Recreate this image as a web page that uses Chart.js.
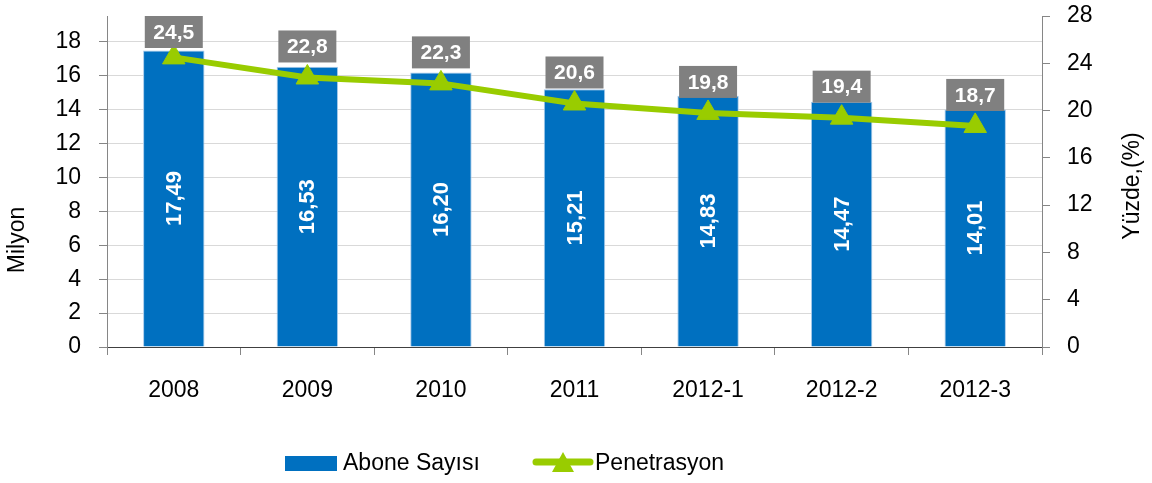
<!DOCTYPE html>
<html lang="tr">
<head>
    <meta charset="UTF-8">
    <title>Abone Sayısı ve Penetrasyon</title>
    <script src="https://cdn.jsdelivr.net/npm/chart.js"></script>
    <style>
        html, body { margin: 0; padding: 0; background: #fff; }
        #wrap { width: 1152px; height: 483px; }
    </style>
</head>
<body>
    <div id="wrap"><canvas id="myChart" width="1152" height="483"></canvas></div>
    <script>
        // data
        const categories = ['2008', '2009', '2010', '2011', '2012-1', '2012-2', '2012-3'];
        const aboneSayisi = [17.49, 16.53, 16.20, 15.21, 14.83, 14.47, 14.01];
        const penetrasyon = [24.5, 22.8, 22.3, 20.6, 19.8, 19.4, 18.7];
        const leftTicks = [0, 2, 4, 6, 8, 10, 12, 14, 16, 18];
        const rightTicks = [0, 4, 8, 12, 16, 20, 24, 28];

        const BLUE = '#0070C0';
        const GREEN = '#99CC00';
        const AXIS = '#868686';
        const FONT = "'Liberation Sans', Arial, sans-serif";

        function fmt(v, d) {
            return v.toFixed(d).replace('.', ',');
        }

        const labelPlugin = {
            id: 'valueLabels',
            afterDatasetsDraw(chart) {
                const ctx = chart.ctx;
                const area = chart.chartArea;
                ctx.save();
                // bar values, rotated, middle of bar
                chart.getDatasetMeta(0).data.forEach((bar, i) => {
                    ctx.save();
                    ctx.translate(bar.x, (bar.y + bar.base) / 2);
                    ctx.rotate(-Math.PI / 2);
                    ctx.fillStyle = '#fff';
                    ctx.font = 'bold 22px ' + FONT;
                    ctx.textAlign = 'center';
                    ctx.textBaseline = 'middle';
                    ctx.fillText(fmt(aboneSayisi[i], 2), 0, 1);
                    ctx.restore();
                });
                // line values in grey boxes
                chart.getDatasetMeta(1).data.forEach((pt, i) => {
                    const w = 58, h = 32;
                    let top = pt.y - 15 - h;
                    if (top < area.top) top = area.top;
                    ctx.fillStyle = '#808080';
                    ctx.fillRect(pt.x - w / 2, top, w, h);
                    ctx.fillStyle = '#fff';
                    ctx.font = 'bold 21px ' + FONT;
                    ctx.textAlign = 'center';
                    ctx.textBaseline = 'middle';
                    ctx.fillText(fmt(penetrasyon[i], 1), pt.x, top + h / 2 + 1);
                });
                ctx.restore();
            },
            afterDraw(chart) {
                const ctx = chart.ctx;
                ctx.save();
                ctx.fillStyle = '#000';
                ctx.font = '23px ' + FONT;
                ctx.textAlign = 'center';
                ctx.textBaseline = 'middle';
                // axis titles, both read upward
                ctx.save();
                ctx.translate(18, 240);
                ctx.rotate(-Math.PI / 2);
                ctx.fillText('Milyon', 0, 0);
                ctx.restore();
                ctx.save();
                ctx.translate(1133, 186);
                ctx.rotate(-Math.PI / 2);
                ctx.fillText('Yüzde,(%)', 0, 0);
                ctx.restore();

                // legend
                ctx.textAlign = 'left';
                ctx.fillStyle = BLUE;
                ctx.fillRect(285, 456, 52, 15);
                ctx.fillStyle = '#000';
                ctx.fillText('Abone Sayısı', 343, 464);

                ctx.strokeStyle = GREEN;
                ctx.lineWidth = 7;
                ctx.lineCap = 'round';
                ctx.beginPath();
                ctx.moveTo(536, 462);
                ctx.lineTo(590, 462);
                ctx.stroke();
                ctx.fillStyle = GREEN;
                ctx.beginPath();
                ctx.moveTo(563, 452);
                ctx.lineTo(574, 472);
                ctx.lineTo(552, 472);
                ctx.closePath();
                ctx.fill();
                ctx.fillStyle = '#000';
                ctx.fillText('Penetrasyon', 595, 464);
                ctx.restore();
            }
        };

        new Chart(document.getElementById('myChart'), {
            data: {
                labels: categories,
                datasets: [{
                    type: 'bar',
                    label: 'Abone Sayısı',
                    data: aboneSayisi,
                    yAxisID: 'y',
                    backgroundColor: BLUE,
                    borderColor: '#A9CBEB',
                    borderWidth: 1,
                    barPercentage: 0.46,
                    categoryPercentage: 1,
                    order: 2
                }, {
                    type: 'line',
                    label: 'Penetrasyon',
                    data: penetrasyon,
                    yAxisID: 'y1',
                    borderColor: GREEN,
                    backgroundColor: GREEN,
                    borderWidth: 6,
                    pointStyle: 'triangle',
                    pointRadius: 13,
                    pointBorderWidth: 1,
                    tension: 0,
                    order: 1
                }]
            },
            options: {
                responsive: false,
                animation: false,
                layout: { padding: { top: 16, left: 0, right: 0, bottom: 0 } },
                plugins: {
                    legend: { display: false },
                    tooltip: { enabled: false }
                },
                scales: {
                    x: {
                        z: 1,
                        offset: true,
                        grid: {
                            offset: true,
                            drawOnChartArea: false,
                            tickLength: 8,
                            tickColor: AXIS
                        },
                        border: { color: '#404040', width: 1 },
                        ticks: {
                            color: '#000',
                            padding: 22,
                            font: { family: FONT, size: 23 }
                        },
                        afterFit(scale) { scale.height = 136; }
                    },
                    y: {
                        position: 'left',
                        min: 0,
                        max: 19.53,
                        grid: {
                            color: '#D9D9D9',
                            tickColor: AXIS,
                            tickLength: 8
                        },
                        border: { color: AXIS },
                        ticks: {
                            stepSize: 2,
                            color: '#000',
                            padding: 18,
                            font: { family: FONT, size: 23 }
                        },
                        afterBuildTicks(scale) {
                            scale.ticks = leftTicks.map(v => ({ value: v }));
                        },
                        afterFit(scale) {
                            scale.width = 107;
                            scale.paddingTop = 0;
                            scale.paddingBottom = 0;
                        }
                    },
                    y1: {
                        position: 'right',
                        min: 0,
                        max: 28,
                        grid: {
                            drawOnChartArea: false,
                            tickColor: AXIS,
                            tickLength: 8
                        },
                        border: { color: AXIS },
                        ticks: {
                            stepSize: 4,
                            color: '#000',
                            padding: 17,
                            font: { family: FONT, size: 23 }
                        },
                        afterBuildTicks(scale) {
                            scale.ticks = rightTicks.map(v => ({ value: v }));
                        },
                        afterFit(scale) {
                            scale.width = 110;
                            scale.paddingTop = 0;
                            scale.paddingBottom = 0;
                        }
                    }
                }
            },
            plugins: [labelPlugin]
        });
    </script>
</body>
</html>
